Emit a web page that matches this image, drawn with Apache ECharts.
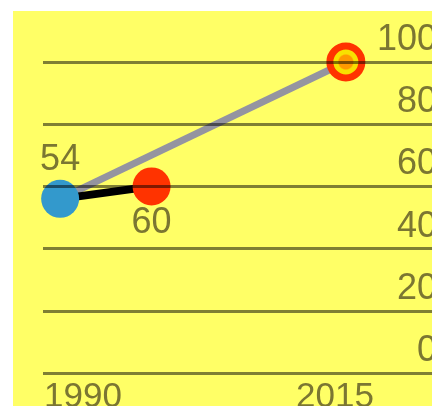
<!DOCTYPE html>
<html>
<head>
<meta charset="utf-8">
<script src="https://cdn.jsdelivr.net/npm/echarts@6/dist/echarts.min.js"></script>
<style>
html,body{margin:0;padding:0;background:#fff;}
#c{width:432px;height:406px;}
</style>
</head>
<body>
<div id="c"></div>
<script>
// Data
var yearLabels = ['1990', '2015'];
var yTicks = [0, 20, 40, 60, 80, 100];
var grayLine = [[1990, 56], [2015, 100]];
var blackLine = [[1990, 56], [1998, 60]];
var bluePoint = [[1990, 56]];
var blueLabel = ['54'];
var redPoint = [[1998, 60]];
var redLabel = ['60'];
var ringPoint = [[2015, 100]];

var txt = '#7b7632';
var font = 'Liberation Sans, Arial, sans-serif';

var chart = echarts.init(document.getElementById('c'), null, {renderer: 'canvas'});
chart.setOption({
  backgroundColor: '#ffffff',
  animation: false,
  graphic: [{
    type: 'rect', z: -10, silent: true,
    shape: {x: 13, y: 11, width: 440, height: 420},
    style: {fill: '#ffff66'}
  }],
  grid: [
    {left: 43, right: -11, top: 62, bottom: 33, outerBoundsMode: 'none', containLabel: false},
    {left: 83, right: 97, top: 62, bottom: 33, outerBoundsMode: 'none', containLabel: false}
  ],
  xAxis: [
    {type: 'value', gridIndex: 0, min: 1988.5, max: 2023.5,
      axisLine: {show: false}, axisTick: {show: false}, axisLabel: {show: false}, splitLine: {show: false}},
    {type: 'category', gridIndex: 1, data: yearLabels, boundaryGap: false, position: 'bottom',
      axisLine: {show: false}, axisTick: {show: false}, splitLine: {show: false},
      axisLabel: {show: true, interval: 0, color: txt, fontSize: 35, fontFamily: font, margin: 7}}
  ],
  yAxis: [
    {type: 'value', gridIndex: 0, min: yTicks[0], max: yTicks[yTicks.length - 1], interval: 20,
      position: 'right', z: 5,
      axisLine: {show: false}, axisTick: {show: false},
      splitLine: {show: true, lineStyle: {color: 'rgba(0,0,0,0.5)', width: 3}},
      axisLabel: {inside: true, margin: 6, color: txt, fontSize: 36, fontFamily: font,
        verticalAlign: 'bottom', padding: [0, 0, 4, 0]}},
    {type: 'value', gridIndex: 1, show: false, min: 0, max: 100}
  ],
  series: [
    {type: 'line', xAxisIndex: 0, yAxisIndex: 0, data: grayLine, symbol: 'none',
      lineStyle: {color: '#9494a0', width: 7}, z: 2},
    {type: 'line', xAxisIndex: 0, yAxisIndex: 0, data: blackLine, symbol: 'none',
      lineStyle: {color: '#000000', width: 8}, z: 2},
    {type: 'scatter', xAxisIndex: 0, yAxisIndex: 0, data: bluePoint, symbolSize: 38, z: 3,
      itemStyle: {color: '#3399cc', opacity: 1},
      label: {show: true, position: 'top', distance: 2, color: txt, fontSize: 36, fontFamily: font,
        formatter: function (p) { return blueLabel[p.dataIndex]; }}},
    {type: 'scatter', xAxisIndex: 0, yAxisIndex: 0, data: redPoint, symbolSize: 38, z: 3,
      itemStyle: {color: '#ff3300', opacity: 1},
      label: {show: true, position: 'bottom', distance: 0, color: txt, fontSize: 36, fontFamily: font,
        formatter: function (p) { return redLabel[p.dataIndex]; }}},
    {type: 'scatter', xAxisIndex: 0, yAxisIndex: 0, data: ringPoint, symbolSize: 32, z: 3, clip: false,
      itemStyle: {
        color: {type: 'radial', x: 0.5, y: 0.5, r: 0.5, colorStops: [
          {offset: 0, color: '#ff9900'}, {offset: 0.35, color: '#ff9900'},
          {offset: 0.42, color: '#f8e000'}, {offset: 1, color: '#f8e000'}]},
        borderColor: '#ff3300', borderWidth: 7, opacity: 1}}
  ]
});
</script>
</body>
</html>
